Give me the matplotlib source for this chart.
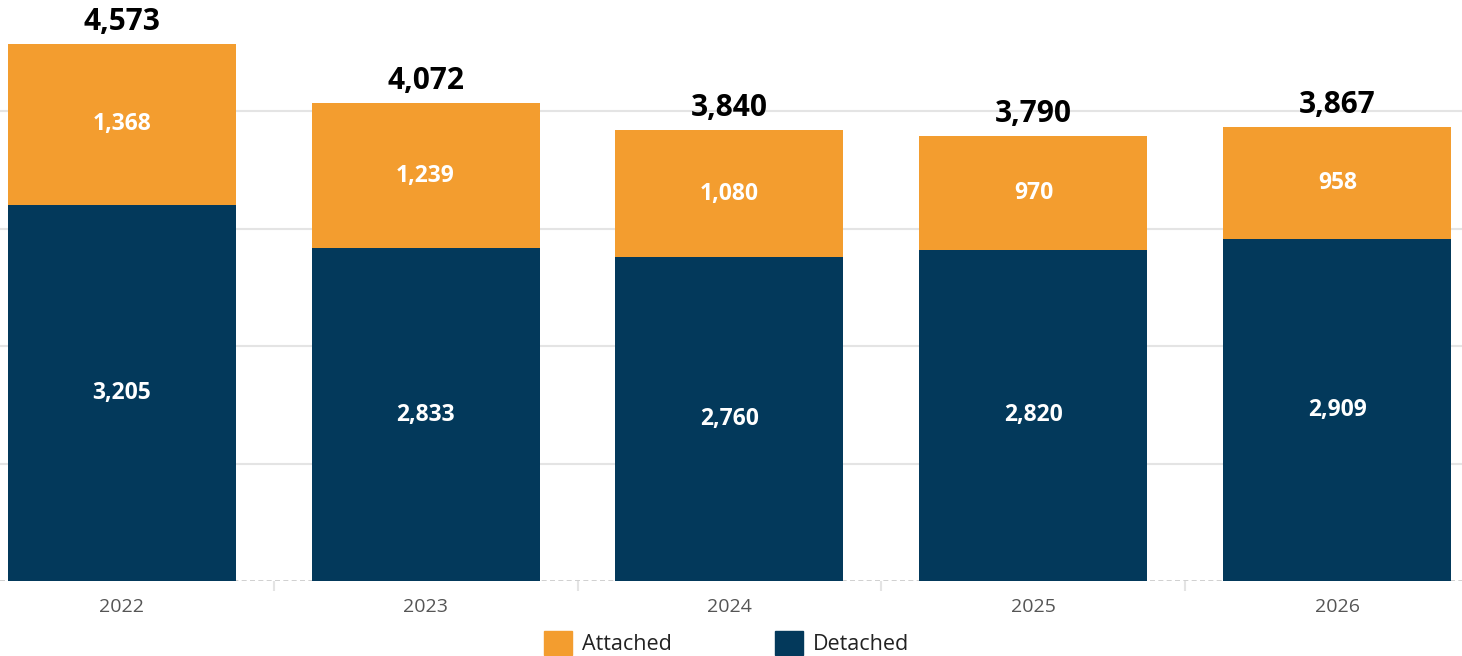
import numpy as np
import matplotlib.pyplot as plt
from matplotlib.patches import Patch

plt.rcParams['font.family'] = ['Open Sans', 'DejaVu Sans']

# Data
years = ['2022', '2023', '2024', '2025', '2026']
detached = [3205, 2833, 2760, 2820, 2909]
attached = [1368, 1239, 1080, 970, 958]

orange = '#F39D2F'
navy = '#03395B'

fig = plt.figure(figsize=(14.62, 6.56), dpi=100)
ax = fig.add_axes([0, 75 / 656, 1, 581 / 656])

x = np.arange(len(years))
totals = np.array(detached) + np.array(attached)
width = 0.75

# bars
ax.bar(x, detached, width, color=navy, zorder=3)
ax.bar(x, attached, width, bottom=detached, color=orange, zorder=3)

for i in range(len(years)):
    ax.text(x[i], detached[i] / 2, f"{detached[i]:,}", ha='center', va='center',
            color='white', fontsize=16.5, fontweight='bold', zorder=4)
    ax.text(x[i], detached[i] + attached[i] / 2, f"{attached[i]:,}", ha='center', va='center',
            color='white', fontsize=16.5, fontweight='bold', zorder=4)
    ax.annotate(f"{totals[i]:,}", xy=(x[i], totals[i]), xytext=(0, 5),
                textcoords='offset points', ha='center', va='bottom',
                fontsize=21.5, fontweight='bold', color='black', zorder=4)

ax.set_xlim(-0.40, 4.41)
ax.set_ylim(0, 4948)

# grid
for v in [1000, 2000, 3000, 4000]:
    ax.axhline(v, color='#E4E4E4', lw=1.5, zorder=1)
ax.axhline(0, color='#C8C8C8', lw=1.2, ls=(0, (3, 2)), zorder=2)

for s in ax.spines.values():
    s.set_visible(False)
ax.set_yticks([])
ax.set_xticks(x)
ax.set_xticklabels(years, fontsize=14, color='#555555')
ax.tick_params(axis='x', length=0, pad=12)
ax.set_xticks(x[:-1] + 0.5, minor=True)
ax.tick_params(axis='x', which='minor', length=7, color='#E4E4E4', width=1.5)

handles = [Patch(color=orange, label='Attached'), Patch(color=navy, label='Detached')]
fig.legend(handles=handles, loc='lower center', bbox_to_anchor=(0.497, -0.028), ncol=2,
           frameon=False, fontsize=15.5, handlelength=1.3, handleheight=1.3,
           handletextpad=0.45, columnspacing=4.8, labelcolor='#222222')

fig.savefig('out.png', dpi=100)
